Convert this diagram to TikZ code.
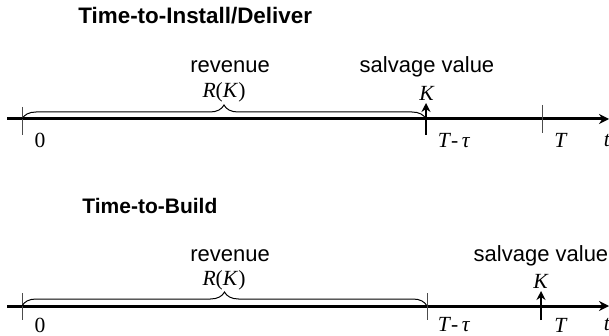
\documentclass[tikz,border=0pt]{standalone}
\usepackage{fontspec}
\setmainfont{Liberation Serif}
\newfontfamily\headfont{Liberation Sans}
\usetikzlibrary{arrows.meta,decorations.pathreplacing}

\begin{document}
\begin{tikzpicture}[x=0.5pt,y=-0.5pt,
    axis/.style={line width=1.5pt,-{Stealth[length=5pt,width=5pt]}},
    tickmark/.style={draw=black!70,line width=0.5pt},
    payoff/.style={line width=1.2pt,-{Stealth[length=4.5pt,width=4.5pt]}},
    curly/.style={decorate,decoration={brace,amplitude=7pt},line width=0.5pt},
    heading/.style={font=\headfont\bfseries\fontsize{#1}{14}\selectfont,anchor=west,inner sep=0pt},
    word/.style={font=\headfont\fontsize{11}{13}\selectfont,inner sep=0pt},
    sym/.style={font=\fontsize{10.8}{12}\selectfont,inner sep=0pt}]
  \useasboundingbox (0,0) rectangle (609,336);

  % time-to-install/deliver
  \path (78,16) node[heading=11.2] (head1) {Time-to-Install/Deliver};
  \coordinate (start1) at (7,119);
  \coordinate (end1) at (609,119);
  \coordinate (zero1) at (22,119);
  \coordinate (inst1) at (426,119);
  \coordinate (T1) at (542,119);
  \draw[axis] (start1) -- (end1);
  \draw[tickmark] ([yshift=6pt]zero1) -- ([yshift=-8pt]zero1);
  \draw[tickmark] ([yshift=7pt]T1) -- ([yshift=-7pt]T1);
  \draw[curly] (zero1) -- (inst1);
  \draw[payoff] ([yshift=-8pt]inst1) -- ([yshift=8pt]inst1);
  \path (230,67) node[word] (rev1) {revenue};
  \path (224,92) node[sym] (RK1) {\textit{R}(\textit{K})};
  \path (427,67) node[word] (salv1) {salvage value};
  \path (427,93) node[sym] (K1) {\textit{K}};
  \path (40,140) node[sym] (lab01) {0};
  \path (454,141) node[sym] (labTt1) {\textit{T}-\,\textit{τ}};
  \path (561,140) node[sym] (labT1) {\textit{T}};
  \path (607,141) node[sym] (labt1) {\textit{t}};

  % time-to-build
  \path (82,206) node[heading=10.5] (head2) {Time-to-Build};
  \coordinate (start2) at (7,306);
  \coordinate (end2) at (609,306);
  \coordinate (zero2) at (22,306);
  \coordinate (inst2) at (427,306);
  \coordinate (T2) at (541,306);
  \draw[axis] (start2) -- (end2);
  \draw[tickmark] ([yshift=6.5pt]zero2) -- ([yshift=-7pt]zero2);
  \draw[tickmark] ([yshift=6.5pt]inst2) -- ([yshift=-7pt]inst2);
  \draw[curly] (zero2) -- (inst2);
  \draw[payoff] ([yshift=-7pt]T2) -- ([yshift=7.5pt]T2);
  \path (230,256) node[word] (rev2) {revenue};
  \path (224,280) node[sym] (RK2) {\textit{R}(\textit{K})};
  \path (541,256) node[word] (salv2) {salvage value};
  \path (541,281) node[sym] (K2) {\textit{K}};
  \path (40,325) node[sym] (lab02) {0};
  \path (454,325) node[sym] (labTt2) {\textit{T}-\,\textit{τ}};
  \path (561,325) node[sym] (labT2) {\textit{T}};
  \path (607,325) node[sym] (labt2) {\textit{t}};
\end{tikzpicture}
\end{document}
